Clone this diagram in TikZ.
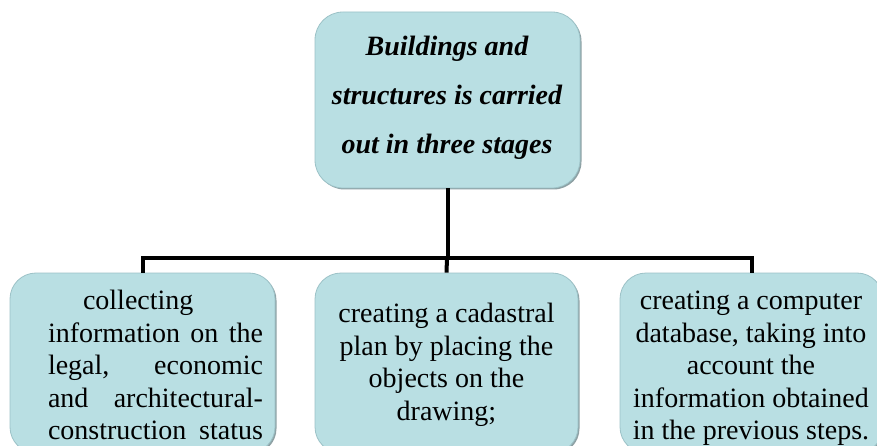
\documentclass[tikz,border=0pt]{standalone}
\usepackage{fontspec}
\setmainfont{Liberation Serif}
\usetikzlibrary{shadows}
\definecolor{boxfill}{HTML}{B9DFE3}
\definecolor{boxedge}{HTML}{9CC2C7}
\definecolor{boxshadow}{HTML}{7A9094}
\begin{document}
\begin{tikzpicture}[x=1pt,y=-1pt,
  box/.style={rectangle, rounded corners=26pt, fill=boxfill, draw=boxedge, line width=0.8pt,
    drop shadow={shadow xshift=1.5pt, shadow yshift=-1.5pt, fill=boxshadow, opacity=0.85}},
  conn/.style={line width=4pt},
  txt/.style={inner sep=0pt, font=\fontsize{28}{32.5}\selectfont}]
\useasboundingbox (0,0) rectangle (877,446);
\clip (0,0) rectangle (877,446);
\node[box, rounded corners=28pt, minimum width=265pt, minimum height=176pt] (top) at (447.5,100) {};
\node[box, minimum width=265pt, minimum height=180pt] (b1) at (142.5,363) {};
\node[box, minimum width=263pt, minimum height=180pt] (b2) at (446.5,363) {};
\node[box, minimum width=263pt, minimum height=180pt] (b3) at (751.5,363) {};
\node[txt, anchor=north, align=center, font=\fontsize{28}{49}\selectfont\bfseries\itshape] (toptxt) at (447,36)
  {Buildings and\\structures is carried\\out in three stages};
\node[txt, anchor=north, text width=215pt, align=left] (t1) at (155.5,290)
  {\hspace*{35pt}collecting\\\makebox[215pt][s]{information\hfill on\hfill the}\\\makebox[215pt][s]{legal,\hfill economic}\\\makebox[215pt][s]{and\hfill architectural-}\\\makebox[215pt][s]{construction\hfill status}};
\node[txt, anchor=north, align=center] (t2) at (446.5,303)
  {creating a cadastral\\plan by placing the\\objects on the\\drawing;};
\node[txt, anchor=north, align=center] (t3) at (751,291)
  {creating a computer\\database, taking into\\account the\\information obtained\\in the previous steps.};
\coordinate (bus) at (447,258);
\draw[conn] (top.south) -- (top.south |- bus);
\draw[conn] (b1.north) -- (b1.north |- bus) -- (b3.north |- bus) -- (b3.north);
\draw[conn] (bus) -- (b2.north);
\end{tikzpicture}
\end{document}
